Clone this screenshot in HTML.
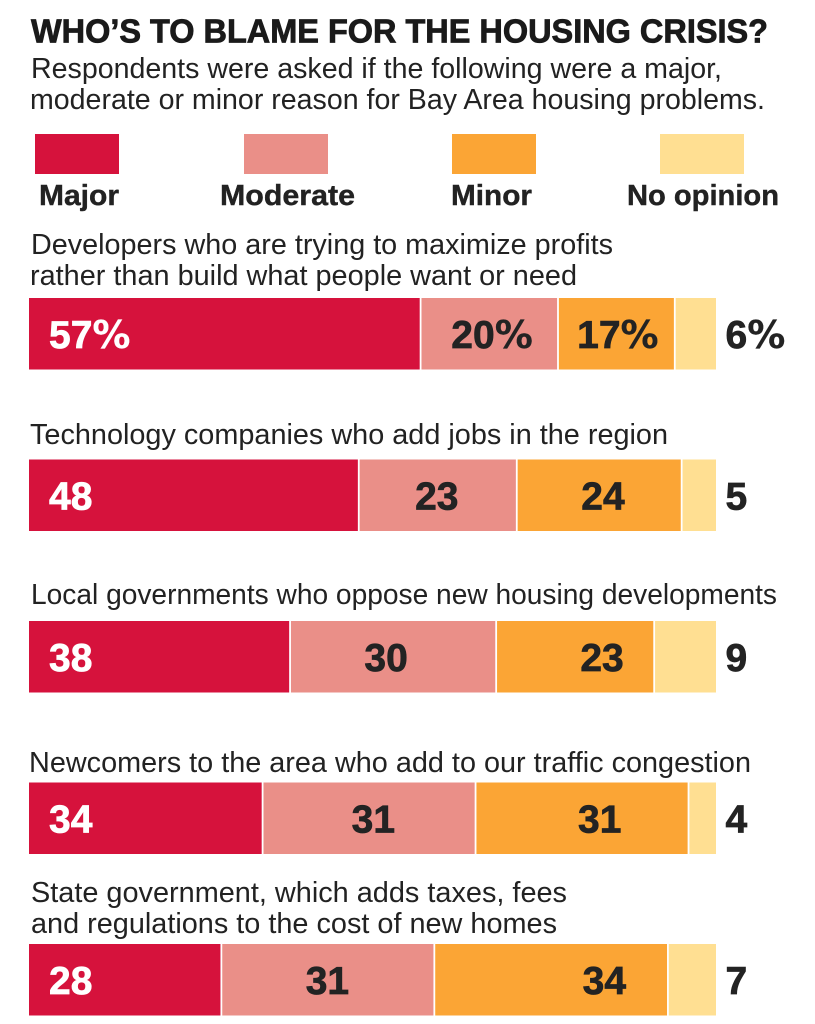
<!DOCTYPE html>
<html lang="en">
<head>
<meta charset="utf-8">
<title>Who's to blame for the housing crisis?</title>
<style>
html,body{margin:0;padding:0;background:#fff;width:815px;height:1024px;overflow:hidden}
svg{display:block}
.body-text{font-family:"Liberation Sans",sans-serif;font-size:28.5px;fill:#222}
.title{font-family:"Liberation Sans",sans-serif;font-weight:700;font-size:33px;fill:#1a1a1a;stroke:#1a1a1a;stroke-width:.8px}
.legend-text{font-family:"Liberation Sans",sans-serif;font-weight:700;font-size:28.5px;fill:#222;stroke:#222;stroke-width:.4px}
.value{font-family:"Liberation Sans",sans-serif;font-weight:700;font-size:39px;stroke-width:.7px}
.pct{font-family:"DejaVu Sans",sans-serif;font-size:38px;stroke-width:.2px}
</style>
</head>
<body>
<svg id="chart" width="815" height="1024" viewBox="0 0 815 1024" xmlns="http://www.w3.org/2000/svg">
  <text class="title" x="31" y="42.5" textLength="737" lengthAdjust="spacingAndGlyphs">WHO’S TO BLAME FOR THE HOUSING CRISIS?</text>
  <text class="body-text" x="31" y="78" textLength="691" lengthAdjust="spacingAndGlyphs">Respondents were asked if the following were a major,</text>
  <text class="body-text" x="30" y="109" textLength="735" lengthAdjust="spacingAndGlyphs">moderate or minor reason for Bay Area housing problems.</text>

  <rect x="35" y="134" width="84" height="40" fill="#d6123c"/>
  <rect x="244" y="134" width="84" height="40" fill="#ea8f88"/>
  <rect x="452" y="134" width="84" height="40" fill="#fba535"/>
  <rect x="660" y="134" width="84" height="40" fill="#ffdf92"/>
  <text class="legend-text" x="39" y="205" textLength="80" lengthAdjust="spacingAndGlyphs">Major</text>
  <text class="legend-text" x="220" y="205" textLength="135" lengthAdjust="spacingAndGlyphs">Moderate</text>
  <text class="legend-text" x="451" y="205" textLength="81" lengthAdjust="spacingAndGlyphs">Minor</text>
  <text class="legend-text" x="627" y="205" textLength="152" lengthAdjust="spacingAndGlyphs">No opinion</text>

  <text class="body-text" x="31" y="254" textLength="582" lengthAdjust="spacingAndGlyphs">Developers who are trying to maximize profits</text>
  <text class="body-text" x="30" y="285" textLength="547" lengthAdjust="spacingAndGlyphs">rather than build what people want or need</text>
  <text class="body-text" x="30" y="444" textLength="638" lengthAdjust="spacingAndGlyphs">Technology companies who add jobs in the region</text>
  <text class="body-text" x="31" y="604" textLength="746" lengthAdjust="spacingAndGlyphs">Local governments who oppose new housing developments</text>
  <text class="body-text" x="29" y="772" textLength="722" lengthAdjust="spacingAndGlyphs">Newcomers to the area who add to our traffic congestion</text>
  <text class="body-text" x="31" y="902" textLength="536" lengthAdjust="spacingAndGlyphs">State government, which adds taxes, fees</text>
  <text class="body-text" x="31" y="933" textLength="526" lengthAdjust="spacingAndGlyphs">and regulations to the cost of new homes</text>

  <g id="bars"></g>
</svg>
<script>
const categories = ["developers", "technology", "local-governments", "newcomers", "state-government"];
const majorValues = [57, 48, 38, 34, 28];
const moderateValues = [20, 23, 30, 31, 31];
const minorValues = [17, 24, 23, 31, 34];
const noOpinionValues = [6, 5, 9, 4, 7];
const valueSuffixes = ["%", "", "", "", ""];

const seriesNames = ["major", "moderate", "minor", "no-opinion"];
const seriesColors = ["#d6123c", "#ea8f88", "#fba535", "#ffdf92"];
const labelColors = ["#ffffff", "#232323", "#232323", "#232323"];
const moderateLabelAlign = [0.52, 0.494, 0.466, 0.52, 0.498];
const minorLabelAlign = [0.513, 0.523, 0.67, 0.583, 0.728];

const SVG_NS = "http://www.w3.org/2000/svg";
const barsGroup = document.getElementById("bars");

function xScale(v) { return 29 + v * 6.87; }
function yBand(i) { return 298 + i * 161.5; }
const BAR_HEIGHT = 71.5;
const HALF_GAP = 0.9;

function addLabel(value, suffix, x, y, anchor, color, category, series) {
  const t = document.createElementNS(SVG_NS, "text");
  t.setAttribute("class", "value");
  t.setAttribute("x", x);
  t.setAttribute("y", y);
  t.setAttribute("text-anchor", anchor);
  t.setAttribute("fill", color);
  t.setAttribute("stroke", color);
  
  
  t.appendChild(document.createTextNode(String(value)));
  if (suffix) {
    const p = document.createElementNS(SVG_NS, "tspan");
    p.setAttribute("class", "pct");
    p.textContent = suffix;
    t.appendChild(p);
  }
  barsGroup.appendChild(t);
}

categories.forEach(function (category, i) {
  const values = [majorValues[i], moderateValues[i], minorValues[i], noOpinionValues[i]];
  const y = yBand(i);
  let cumulative = 0;
  values.forEach(function (v, s) {
    const x0 = xScale(cumulative);
    const x1 = xScale(cumulative + v);
    const left = s === 0 ? x0 : x0 + HALF_GAP;
    const right = s === values.length - 1 ? x1 : x1 - HALF_GAP;
    const r = document.createElementNS(SVG_NS, "rect");
    r.setAttribute("x", left);
    r.setAttribute("y", y);
    r.setAttribute("width", Math.max(0, right - left));
    r.setAttribute("height", BAR_HEIGHT);
    r.setAttribute("fill", seriesColors[s]);
    
    
    barsGroup.appendChild(r);
    cumulative += v;
  });
  cumulative = 0;
  values.forEach(function (v, s) {
    const x0 = xScale(cumulative);
    const x1 = xScale(cumulative + v);
    const baseline = y + 50;
    const suffix = valueSuffixes[i];
    if (s === 0) {
      addLabel(v, suffix, x0 + 20, baseline, "start", labelColors[s], category, seriesNames[s]);
    } else if (s === 1) {
      addLabel(v, suffix, x0 + (x1 - x0) * moderateLabelAlign[i], baseline, "middle", labelColors[s], category, seriesNames[s]);
    } else if (s === 2) {
      addLabel(v, suffix, x0 + (x1 - x0) * minorLabelAlign[i], baseline, "middle", labelColors[s], category, seriesNames[s]);
    } else {
      addLabel(v, suffix, xScale(100) + 9.5, baseline, "start", labelColors[s], category, seriesNames[s]);
    }
    cumulative += v;
  });
});
</script>
</body>
</html>
